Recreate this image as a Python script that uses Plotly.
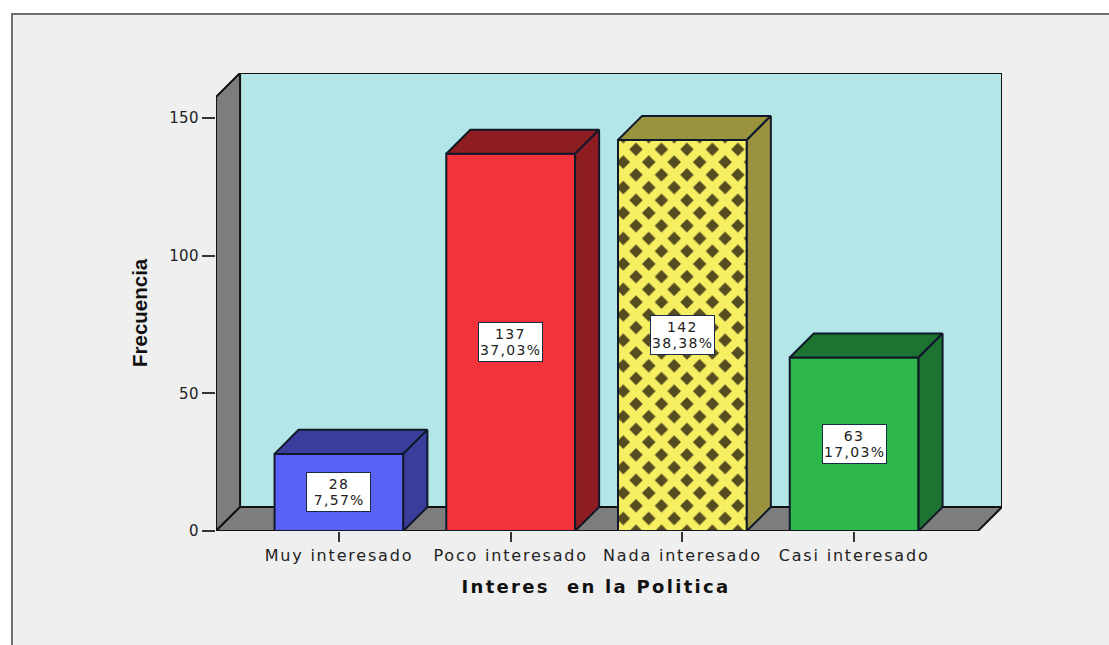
import plotly.graph_objects as go

categories = ["Muy interesado", "Poco interesado", "Nada interesado", "Casi interesado"]
counts = [28, 137, 142, 63]
percent_labels = ["7,57%", "37,03%", "38,38%", "17,03%"]
front_colors = ["#5a61f7", "#f23339", "#554d20", "#2eb84c"]
pattern_shapes = ["", "", "x", ""]
dark_colors = ["#393e9c", "#8e1d22", "#99923f", "#1d7331"]
y_ticks = [0, 50, 100, 150]
x_title = "Interes  en la Politica"
y_title = "Frecuencia"

# Scale of the plot (data units)
W, H = 1109, 645
left, right, top, bottom = 216, 1002, 73, 531
x_range = [-0.716, 3.861]
y_range = [0, 166.3]
dx = 0.14
dy = 8.72
bar_half = 0.375
edge = "#10182a"

fig = go.Figure()

label_font = dict(family="DejaVu Sans", size=14, color="#222222")
for i, v in enumerate(counts):
    x0, x1 = i - bar_half, i + bar_half
    fig.add_bar(
        x=[i], y=[v], width=bar_half * 2,
        marker=dict(
            color=front_colors[i],
            line=dict(color=edge, width=2),
            pattern=dict(shape=pattern_shapes[i], size=18, solidity=0.72,
                         fgcolor="#f7ef62", bgcolor=front_colors[i], fgopacity=1,
                         fillmode="overlay"),
        ),
        hoverinfo="skip", showlegend=False,
    )
    fig.add_scatter(x=[x0, x0 + dx, x1 + dx, x1, x0], y=[v, v + dy, v + dy, v, v],
                    fill="toself", fillcolor=dark_colors[i], mode="lines",
                    line=dict(color=edge, width=2), hoverinfo="skip", showlegend=False)
    fig.add_scatter(x=[x1, x1 + dx, x1 + dx, x1, x1], y=[0, dy, v + dy, v, 0],
                    fill="toself", fillcolor=dark_colors[i], mode="lines",
                    line=dict(color=edge, width=2), hoverinfo="skip", showlegend=False)
    fig.add_annotation(x=i, y=v / 2, text=" ", showarrow=False, width=63, height=38,
                       bgcolor="white", bordercolor="#1a2a4a", borderwidth=1, borderpad=0)
    fig.add_annotation(x=i, y=v / 2, yshift=8, text=str(v), showarrow=False, font=label_font)
    fig.add_annotation(x=i, y=v / 2, yshift=-8, text=percent_labels[i], showarrow=False, font=label_font)

fig.add_annotation(xref="paper", yref="paper", x=(596 - left) / (right - left),
                   y=(bottom - 586) / (bottom - top), xanchor="center", yanchor="middle",
                   text=x_title, showarrow=False,
                   font=dict(family="DejaVu Sans", size=18, color="#111111", weight="bold"))
fig.add_annotation(xref="paper", yref="paper", x=(139 - left) / (right - left),
                   y=(bottom - 313) / (bottom - top), xanchor="center", yanchor="middle",
                   text=y_title, showarrow=False, textangle=-90,
                   font=dict(family="Liberation Sans", size=20.5, color="#111111", weight="bold"))

xl, xr = x_range
ymax = y_range[1]
path = lambda pts: "M" + " L".join(f"{a},{b}" for a, b in pts) + " Z"
wall_line = dict(color="#111111", width=2)
# Outer panel
fig.add_shape(type="rect", xref="paper", yref="paper", layer="below",
              x0=(12 - left) / (right - left), x1=(1120 - left) / (right - left),
              y0=(bottom - 660) / (bottom - top), y1=(bottom - 14) / (bottom - top),
              fillcolor="#efefef", line=dict(color="#6f6f6f", width=2))
# Back wall, left wall, floor
fig.add_shape(type="path", layer="below", xref="x", yref="y",
              path=path([(xl + dx, dy), (xl + dx, ymax), (xr, ymax), (xr, dy)]),
              fillcolor="#b2e6e7", line=wall_line)
fig.add_shape(type="path", layer="below", xref="x", yref="y",
              path=path([(xl, 0), (xl, ymax - dy), (xl + dx, ymax), (xl + dx, dy)]),
              fillcolor="#7d7d7d", line=wall_line)
fig.add_shape(type="path", layer="below", xref="x", yref="y",
              path=path([(xl, 0), (xl + dx, dy), (xr, dy), (xr - dx, 0)]),
              fillcolor="#7d7d7d", line=wall_line)

fig.update_layout(
    width=W, height=H,
    margin=dict(l=left, r=W - right, t=top, b=H - bottom),
    paper_bgcolor="white", plot_bgcolor="rgba(0,0,0,0)",
    barmode="overlay",
    xaxis=dict(
        range=x_range, tickmode="array", tickvals=list(range(len(categories))),
        ticktext=categories, ticks="outside", ticklen=10, tickwidth=2, tickcolor="#333333",
        tickfont=dict(family="DejaVu Sans", size=16, color="#222222"),
        showgrid=False, zeroline=False, showline=False,
    ),
    yaxis=dict(
        range=y_range, tickmode="array", tickvals=y_ticks,
        ticks="outside", ticklen=13, tickwidth=2, tickcolor="#333333",
        tickfont=dict(family="DejaVu Sans", size=15, color="#222222"),
        showgrid=False, zeroline=False, showline=False,
    ),
)

css = """
.xtick text { letter-spacing: 1.8px; }
.ytick text { letter-spacing: 0.4px; }
"""
post = (
    "document.body.style.margin='0';"
    "var s=document.createElement('style');s.textContent=" + repr(css.replace("\n", " ")) + ";"
    "document.head.appendChild(s);"
    "document.querySelectorAll('.annotation-text').forEach(function(t){"
    "var s=t.textContent.trim();"
    "if(s.indexOf('Interes')===0){t.style.letterSpacing='2.3px';}"
    "else if(s.length&&s.indexOf('Frec')!==0){t.style.letterSpacing='1.3px';}"
    "});"
)
fig.write_html("out.html", post_script=post, config={"displayModeBar": False})
